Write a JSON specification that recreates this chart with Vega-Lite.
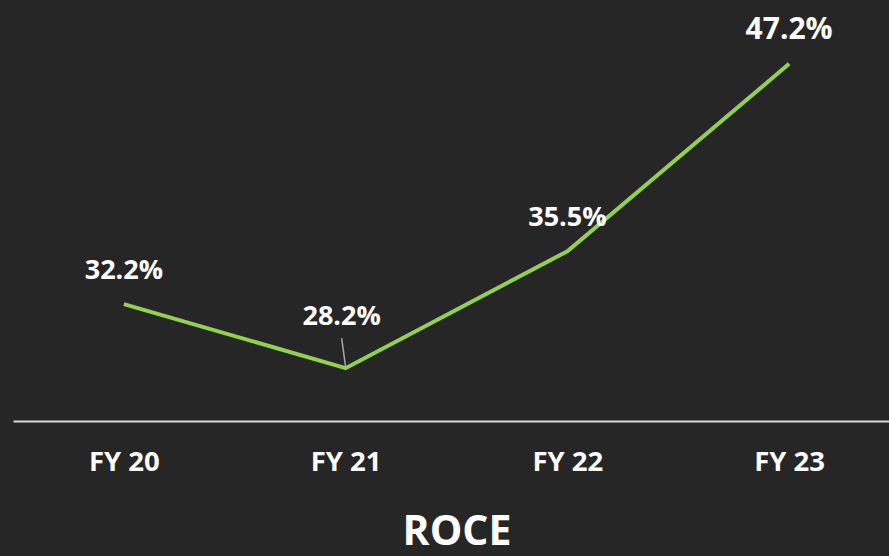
{
  "$schema": "https://vega.github.io/schema/vega-lite/v6.json",
  "autosize": {"type": "none"},
  "width": 887,
  "height": 402,
  "padding": {"left": 13, "top": 19, "right": 0, "bottom": 135},
  "background": "#262626",
  "config": {"view": {"stroke": null}, "font": "Open Sans"},
  "data": {"values": [
    {"period": "FY 20", "roce": 32.2, "label": "32.2%"},
    {"period": "FY 21", "roce": 28.2, "label": "28.2%"},
    {"period": "FY 22", "roce": 35.5, "label": "35.5%"},
    {"period": "FY 23", "roce": 47.2, "label": "47.2%"}
  ]},
  "encoding": {
    "x": {"field": "period", "type": "ordinal", "scale": {"type": "point", "padding": 0.5},
      "axis": {"title": "ROCE", "labelAngle": 0, "labelColor": "#ffffff", "labelFontSize": 27.5, "labelFontWeight": "bold", "labelPadding": 27, "ticks": false, "domainColor": "#d9d9d9", "domainWidth": 2, "grid": false, "titleColor": "#ffffff", "titleFontSize": 41, "titleFontWeight": "bold", "titlePadding": 37}},
    "y": {"field": "roce", "type": "quantitative", "scale": {"domain": [24.9, 50], "zero": false, "nice": false}, "axis": null}
  },
  "layer": [
    {"mark": {"type": "line", "color": "#92d050", "strokeWidth": 4}},
    {"transform": [{"filter": "datum.period === 'FY 21'"}],
     "mark": {"type": "rule", "color": "#a6a6a6", "strokeWidth": 1.5, "x2Offset": -4, "yOffset": -1, "y2Offset": -30},
     "encoding": {"x2": {"field": "period"}, "y2": {"field": "roce"}}},
    {"transform": [{"filter": "datum.period !== 'FY 21'"}],
     "mark": {"type": "text", "color": "#ffffff", "fontWeight": "bold", "baseline": "alphabetic", "dy": -25},
     "encoding": {"text": {"field": "label"}, "size": {"condition": {"test": "datum.period === 'FY 23'", "value": 30}, "value": 27}}},
    {"transform": [{"filter": "datum.period === 'FY 21'"}],
     "mark": {"type": "text", "color": "#ffffff", "fontWeight": "bold", "baseline": "alphabetic", "dy": -43, "dx": -4, "fontSize": 27},
     "encoding": {"text": {"field": "label"}}}
  ]
}
